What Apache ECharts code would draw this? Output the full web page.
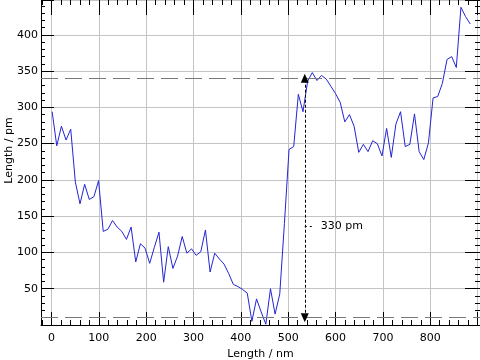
<!DOCTYPE html>
<html>
<head>
<meta charset="utf-8">
<script src="https://cdn.jsdelivr.net/npm/echarts@6/dist/echarts.min.js"></script>
<style>html,body{margin:0;padding:0;background:#fff;}#c{width:480px;height:360px;}</style>
</head>
<body>
<div id="c"></div>
<script>
// profile heights (pm), sampled every ~9.81 nm starting at ~1.5 nm
const heights = [294,247,274,255,270,197,167,194,173,177,
                 199,129,132,144,135,129,118,135,87,112,
                 106,85,107,128,59,108,78,95,122,99,
                 105,96,101,131,73,99,91,84,71,56,
                 53,49,44,5,36,18,1,50,15,43,
                 140,242,246,318,294,336,348,337,344,339,
                 329,319,307,280,290,274,238,249,239,254,
                 250,233,271,231,277,294,246,249,291,239,
                 228,251,313,315,333,366,370,355,438,425,415];
const xStart = 1.5, xStep = 9.81;
const lowLevel = 10, highLevel = 340;
const arrowX = 535;
const stepLabel = '330 pm';
const xTicks = [0,100,200,300,400,500,600,700,800];
const yTicks = [50,100,150,200,250,300,350,400];

const pts = heights.map((h, i) => [xStart + i * xStep, h]);
const FONT = 'DejaVu Sans';
const chart = echarts.init(document.getElementById('c'), null, {renderer: 'canvas'});

const xBase = {type: 'value', min: -22, max: 905, minInterval: 100, maxInterval: 100, splitNumber: 9};
const yBase = {type: 'value', min: 0, max: 448, minInterval: 50, maxInterval: 50, splitNumber: 9};

chart.setOption({
  animation: false,
  grid: {left: 41, right: 0, top: 0, bottom: 35, containLabel: false, outerBoundsMode: 'none'},
  xAxis: [
    Object.assign({}, xBase, {
      position: 'bottom',
      name: 'Length / nm', nameLocation: 'middle', nameGap: 22,
      nameTextStyle: {fontFamily: FONT, fontSize: 11, color: '#000'},
      axisLine: {show: true, onZero: false, lineStyle: {color: '#000', width: 1}},
      axisTick: {show: true, inside: true, length: 13, lineStyle: {color: '#000'}},
      minorTick: {show: true, splitNumber: 5, length: 5, lineStyle: {color: '#000'}},
      splitLine: {show: true, lineStyle: {color: '#c4c4c4', width: 1}},
      axisLabel: {fontFamily: FONT, fontSize: 11, color: '#000', margin: 8,
        formatter: v => xTicks.indexOf(v) >= 0 ? String(v) : ''}
    }),
    Object.assign({}, xBase, {
      position: 'top',
      axisLine: {show: false, onZero: false},
      axisTick: {show: true, inside: true, length: 15, lineStyle: {color: '#000'}},
      minorTick: {show: true, splitNumber: 5, length: 5, lineStyle: {color: '#000'}},
      splitLine: {show: false},
      axisLabel: {show: false}
    })
  ],
  yAxis: [
    Object.assign({}, yBase, {
      position: 'left',
      name: 'Length / pm', nameLocation: 'middle', nameGap: 26, nameMoveOverlap: false,
      nameTextStyle: {fontFamily: FONT, fontSize: 11, color: '#000', padding: [0, 0, 0, 24]},
      axisLine: {show: true, onZero: false, lineStyle: {color: '#000', width: 1}},
      axisTick: {show: true, inside: true, length: 13, lineStyle: {color: '#000'}},
      minorTick: {show: true, splitNumber: 5, length: 4, lineStyle: {color: '#000'}},
      splitLine: {show: true, lineStyle: {color: '#c4c4c4', width: 1}},
      axisLabel: {fontFamily: FONT, fontSize: 11, color: '#000', margin: 3,
        formatter: v => yTicks.indexOf(v) >= 0 ? String(v) : ''}
    }),
    Object.assign({}, yBase, {
      position: 'right',
      axisLine: {show: false, onZero: false},
      axisTick: {show: true, inside: true, length: 15, lineStyle: {color: '#000'}},
      minorTick: {show: true, splitNumber: 5, length: 5, lineStyle: {color: '#000'}},
      splitLine: {show: false},
      axisLabel: {show: false}
    })
  ],
  series: [
    {
      type: 'line', xAxisIndex: 0, yAxisIndex: 0,
      data: pts, showSymbol: false, symbol: 'none',
      lineStyle: {color: '#2424d4', width: 1},
      z: 3,
      markLine: {
        silent: true, symbol: 'none', animation: false,
        label: {show: false},
        lineStyle: {color: '#7a7a7a', width: 1, type: [17, 7]},
        data: [{yAxis: highLevel}, {yAxis: lowLevel}]
      }
    },
    {
      type: 'line', xAxisIndex: 0, yAxisIndex: 0, data: [], z: 4,
      markLine: {
        silent: true, animation: false,
        symbol: ['triangle', 'triangle'], symbolSize: [8, 9],
        lineStyle: {color: '#000', width: 1, type: [3, 2]},
        itemStyle: {color: '#000'},
        label: {show: false},
        data: [[{coord: [arrowX, lowLevel]}, {coord: [arrowX, highLevel]}]]
      }
    },
    {
      type: 'line', xAxisIndex: 0, yAxisIndex: 0, data: [], z: 4,
      markLine: {
        silent: true, animation: false, symbol: 'none',
        lineStyle: {color: '#000', width: 1, type: [2, 3]},
        label: {show: true, position: 'end', distance: 8, formatter: stepLabel,
          fontFamily: FONT, fontSize: 11, color: '#000'},
        data: [[{coord: [arrowX, (lowLevel + highLevel) / 2 - 39]}, {coord: [arrowX + 17, (lowLevel + highLevel) / 2 - 39]}]]
      }
    }
  ]
});
</script>
</body>
</html>
